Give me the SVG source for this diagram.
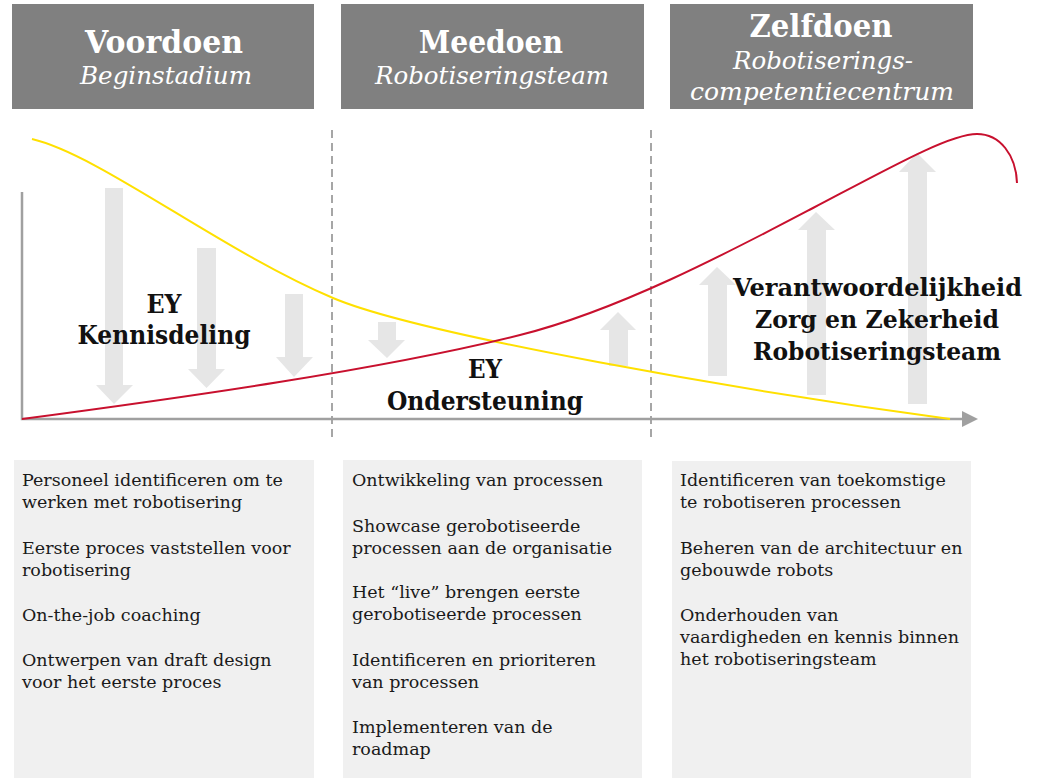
<svg xmlns="http://www.w3.org/2000/svg" width="1041" height="779" viewBox="0 0 1041 779">
<style>
.hdr{fill:#808080}
.ht{font-family:"DejaVu Serif","Liberation Serif",serif;fill:#fff;text-anchor:middle}
.hb{font-weight:bold;font-size:31px}
.hi{font-style:italic;font-size:24px}
.arr{fill:#e6e6e6}
.lbl{font-family:"DejaVu Serif","Liberation Serif",serif;font-weight:bold;font-size:26px;fill:#111;text-anchor:middle}
.lsm{font-size:24px}
.box{fill:#f0f0f0}
.bt{font-family:"DejaVu Serif","Liberation Serif",serif;font-size:17.5px;fill:#1a1a1a}
.dash{stroke:#a6a6a6;stroke-width:2;stroke-dasharray:8 5;fill:none}
.axis{stroke:#a0a0a0;stroke-width:2.5;fill:none}
</style>
<g id="header-voordoen">
<rect class="hdr" x="12" y="4" width="302" height="105"/>
<text class="ht hb" x="164" y="53" textLength="158" lengthAdjust="spacingAndGlyphs">Voordoen</text>
<text class="ht hi" x="166" y="84" textLength="172" lengthAdjust="spacingAndGlyphs">Beginstadium</text>
</g>
<g id="header-meedoen">
<rect class="hdr" x="341" y="4" width="303" height="105"/>
<text class="ht hb" x="491" y="53" textLength="144" lengthAdjust="spacingAndGlyphs">Meedoen</text>
<text class="ht hi" x="492" y="84" textLength="234" lengthAdjust="spacingAndGlyphs">Robotiseringsteam</text>
</g>
<g id="header-zelfdoen">
<rect class="hdr" x="670" y="4" width="303" height="105"/>
<text class="ht hb" x="821" y="37" textLength="143" lengthAdjust="spacingAndGlyphs">Zelfdoen</text>
<text class="ht hi" x="823" y="69" textLength="180" lengthAdjust="spacingAndGlyphs">Robotiserings-</text>
<text class="ht hi" x="822" y="100" textLength="264" lengthAdjust="spacingAndGlyphs">competentiecentrum</text>
</g>
<g id="arrows">
<polygon class="arr" points="105,188 123,188 123,385 133,385 114,404 96,385 105,385"/>
<polygon class="arr" points="197,248 216,248 216,369 225,369 206.5,388 188,369 197,369"/>
<polygon class="arr" points="285,294 303,294 303,357 313,357 294,377 276,357 285,357"/>
<polygon class="arr" points="378,322 396,322 396,340 405,340 387,358 368,340 378,340"/>
<polygon class="arr" points="609,366 628,366 628,330 636,330 618,312 600,330 609,330"/>
<polygon class="arr" points="708,376 727,376 727,285 736,285 717,267 699,285 708,285"/>
<polygon class="arr" points="807,395 826,395 826,230 835,230 816,212 798,230 807,230"/>
<polygon class="arr" points="908,404 927,404 927,172 936,172 917,153 899,172 908,172"/>
</g>
<g id="connectors">
<line class="dash" x1="332" y1="130" x2="332" y2="442"/>
<line class="dash" x1="651" y1="130" x2="651" y2="442"/>
<polyline class="axis" points="22,192 22,419 963,419"/>
<polygon fill="#a0a0a0" points="962,411 978,419 962,427"/>
<path d="M32,139 C100,155 220,250 333,298 C420,335 750,392 950,419" fill="none" stroke="#ffe000" stroke-width="2"/>
<path d="M22,419 C180,398 380,370 520,335 C620,310 733,250 813,208 C893,166 950,134 977,134 C1000,134 1016,155 1017,183" fill="none" stroke="#c8102e" stroke-width="2"/>
</g>
<g id="label-kennisdeling">
<text class="lbl" x="164" y="313" textLength="35" lengthAdjust="spacingAndGlyphs">EY</text>
<text class="lbl" x="164" y="344" textLength="173" lengthAdjust="spacingAndGlyphs">Kennisdeling</text>
</g>
<g id="label-ondersteuning">
<text class="lbl" x="485" y="378" textLength="34" lengthAdjust="spacingAndGlyphs">EY</text>
<text class="lbl" x="485" y="410" textLength="196" lengthAdjust="spacingAndGlyphs">Ondersteuning</text>
</g>
<g id="label-verantwoordelijkheid">
<text class="lbl lsm" x="877.5" y="296" textLength="289" lengthAdjust="spacingAndGlyphs">Verantwoordelijkheid</text>
<text class="lbl lsm" x="877" y="328" textLength="244" lengthAdjust="spacingAndGlyphs">Zorg en Zekerheid</text>
<text class="lbl lsm" x="877" y="360" textLength="248" lengthAdjust="spacingAndGlyphs">Robotiseringsteam</text>
</g>
<g id="box-voordoen">
<rect class="box" x="14" y="460" width="300" height="318"/>
<text class="bt" x="22" y="486">Personeel identificeren om te</text>
<text class="bt" x="22" y="508">werken met robotisering</text>
<text class="bt" x="22" y="554">Eerste proces vaststellen voor</text>
<text class="bt" x="22" y="576">robotisering</text>
<text class="bt" x="22" y="621">On-the-job coaching</text>
<text class="bt" x="22" y="666">Ontwerpen van draft design</text>
<text class="bt" x="22" y="688">voor het eerste proces</text>
</g>
<g id="box-meedoen">
<rect class="box" x="343" y="460" width="299" height="318"/>
<text class="bt" x="352" y="486">Ontwikkeling van processen</text>
<text class="bt" x="352" y="532">Showcase gerobotiseerde</text>
<text class="bt" x="352" y="554">processen aan de organisatie</text>
<text class="bt" x="352" y="598">Het “live” brengen eerste</text>
<text class="bt" x="352" y="620">gerobotiseerde processen</text>
<text class="bt" x="352" y="666">Identificeren en prioriteren</text>
<text class="bt" x="352" y="688">van processen</text>
<text class="bt" x="352" y="733">Implementeren van de</text>
<text class="bt" x="352" y="755">roadmap</text>
</g>
<g id="box-zelfdoen">
<rect class="box" x="672" y="461" width="299" height="317"/>
<text class="bt" x="680" y="486">Identificeren van toekomstige</text>
<text class="bt" x="680" y="508">te robotiseren processen</text>
<text class="bt" x="680" y="554">Beheren van de architectuur en</text>
<text class="bt" x="680" y="576">gebouwde robots</text>
<text class="bt" x="680" y="621">Onderhouden van</text>
<text class="bt" x="680" y="643">vaardigheden en kennis binnen</text>
<text class="bt" x="680" y="665">het robotiseringsteam</text>
</g>
</svg>
